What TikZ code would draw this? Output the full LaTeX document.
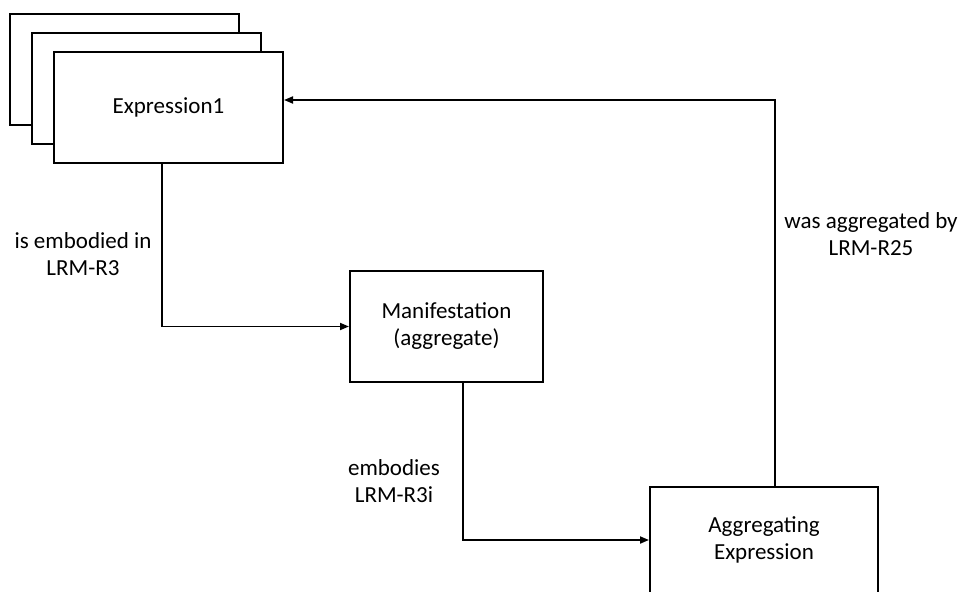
\documentclass[tikz,border=0pt]{standalone}
\usepackage{fontspec}
\setmainfont{Carlito}
\usetikzlibrary{arrows.meta,calc}
\begin{document}
\begin{tikzpicture}[x=1pt,y=-1pt,
  every node/.style={font=\fontsize{23}{27}\selectfont},
  box/.style={draw,line width=2pt,fill=white,minimum width=#1,minimum height=111pt,inner sep=0pt,align=center},
  lbl/.style={align=center,inner sep=0pt},
  arr/.style={line width=1.8pt,-{Triangle[length=9pt,width=7pt]}}]
\useasboundingbox (0,0) rectangle (962,592);
\node[box=229pt] (b1) at (124.5,69.5) {};
\node[box=229pt] (b2) at (146.5,88.5) {};
\node[box=229pt] (e1) at (168.5,107.5) {Expression1};
\node[box=193pt] (man) at (446.5,326.5) {Manifestation\\(aggregate)};
\node[box=228pt,minimum height=106pt] (agg) at (764,540) {Aggregating\\Expression};
\coordinate (c1) at ($(e1.south)+(-6.5,0)$);
\coordinate (c2) at ($(man.south)+(16.5,0)$);
\coordinate (c3) at ($(agg.north)+(11,0)$);
\coordinate (c4) at ($(e1.east)+(0,-7.5)$);
\draw[arr] (c1) |- (man.west);
\draw[arr] (c2) |- (agg.west);
\draw[arr] (c3) |- (c4);
\node[lbl] (l1) at (83,254) {is embodied in\\LRM-R3};
\node[lbl] (l2) at (394,481) {embodies\\LRM-R3i};
\node[lbl] (l3) at (871,234) {was aggregated by\\LRM-R25};
\end{tikzpicture}
\end{document}
